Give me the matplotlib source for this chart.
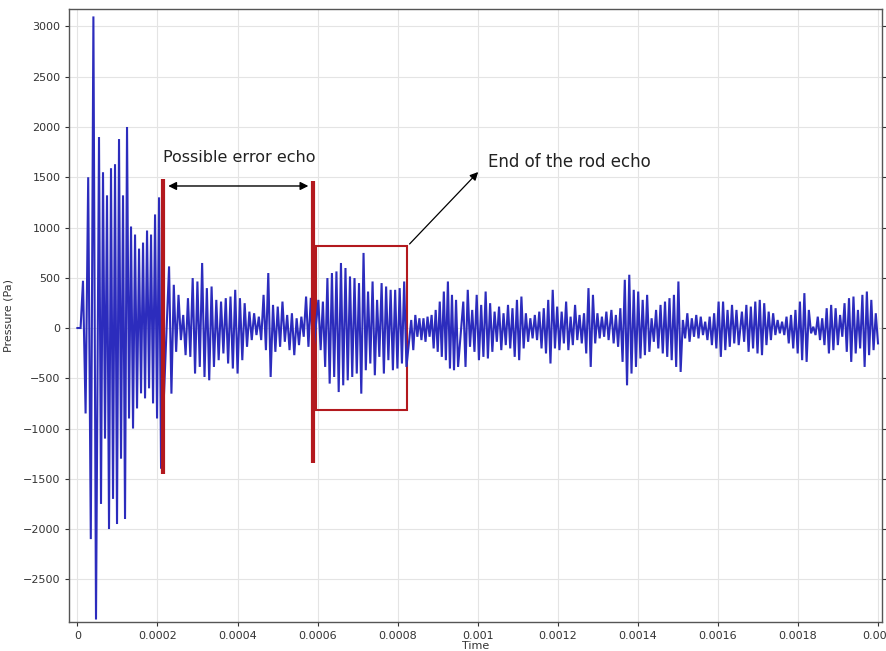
import numpy as np
import matplotlib
matplotlib.use("Agg")
import matplotlib.pyplot as plt

# ---- data: oscillation extrema (Pa), per segment ----
# segment time spans (s)
seg_A1_t = (0.0000140, 0.0000465)
seg_A1_hi = [470, 1500, 3100]
seg_A1_lo = [-850, -2100, -2900]

seg_A2_t = (0.0000540, 0.000209)
seg_A2_hi = [1900, 1550, 1320, 1590, 1630, 1880, 1320, 2000, 1010, 930, 790, 850, 970, 930, 1130, 1300]
seg_A2_lo = [-1750, -1100, -2000, -1700, -1950, -1300, -1900, -900, -1000, -800, -650, -700, -600, -750, -900, -1400]

seg_B_t = (0.000229, 0.000589)
seg_B_hi = [613, 430, 330, 130, 297, 497, 463, 647, 397, 413, 280, 263, 297, 313, 380, 297, 247, 163, 147, 113, 330, 547, 230, 213, 263, 130, 147, 97, 113, 313, 300]
seg_B_lo = [-653, -237, -120, -270, -287, -453, -387, -487, -520, -387, -320, -253, -353, -403, -453, -320, -187, -120, -70, -120, -220, -487, -237, -187, -137, -220, -270, -170, -87, -187, -250]

seg_C_t = (0.000602, 0.000822)
seg_C_hi = [280, 263, 497, 547, 563, 647, 597, 513, 497, 447, 747, 363, 463, 280, 447, 413, 380, 380, 397, 463]
seg_C_lo = [-220, -387, -553, -487, -637, -570, -520, -487, -453, -653, -420, -353, -470, -287, -453, -320, -420, -403, -353, -387]

seg_P_t = (0.000834, 0.000951)
seg_P_hi = [80, 130, 97, 97, 113, 130, 180, 263, 363, 463, 330, 280]
seg_P_lo = [-220, -87, -120, -137, -87, -203, -237, -287, -320, -403, -420, -387]

seg_D_t = (0.000964, 0.001327)
seg_D_hi = [263, 380, 180, 330, 230, 363, 247, 163, 213, 147, 230, 197, 280, 313, 147, 97, 130, 163, 197, 280, 380, 213, 163, 263, 113, 230, 130, 147, 397, 330, 147, 113, 163]
seg_D_lo = [-387, -187, -237, -320, -287, -303, -237, -137, -220, -170, -203, -287, -320, -203, -137, -103, -120, -203, -253, -353, -203, -220, -153, -220, -170, -120, -153, -253, -387, -153, -103, -87, -120]

seg_E_t = (0.001334, 0.001652)
seg_E_hi = [180, 130, 197, 480, 530, 380, 363, 280, 330, 97, 180, 230, 263, 297, 330, 463, 80, 147, 97, 130, 113, 63, 113, 147, 263, 263, 180, 230, 180]
seg_E_lo = [-153, -187, -337, -570, -453, -387, -303, -270, -237, -137, -203, -253, -287, -320, -387, -437, -103, -137, -87, -103, -70, -120, -170, -203, -287, -220, -187, -153, -170]

seg_F_t = (0.001660, 0.002000)
seg_F_hi = [163, 230, 213, 263, 280, 247, 163, 147, 80, 63, 113, 130, 180, 263, 347, 180, 13, 113, 97, 197, 230, 197, 130, 247, 297, 313, 180, 330, 363, 280, 147]
seg_F_lo = [-137, -237, -203, -253, -270, -170, -120, -70, -53, -70, -153, -203, -253, -320, -337, -53, -70, -120, -170, -253, -220, -170, -87, -237, -337, -253, -203, -387, -270, -220, -153]

segments = [
    (seg_A1_t, seg_A1_hi, seg_A1_lo),
    (seg_A2_t, seg_A2_hi, seg_A2_lo),
    (seg_B_t, seg_B_hi, seg_B_lo),
    (seg_C_t, seg_C_hi, seg_C_lo),
    (seg_P_t, seg_P_hi, seg_P_lo),
    (seg_D_t, seg_D_hi, seg_D_lo),
    (seg_E_t, seg_E_hi, seg_E_lo),
    (seg_F_t, seg_F_hi, seg_F_lo),
]

y_ticks = [-2500, -2000, -1500, -1000, -500, 0, 500, 1000, 1500, 2000, 2500, 3000]
x_ticks = [0, 0.0002, 0.0004, 0.0006, 0.0008, 0.001, 0.0012, 0.0014, 0.0016, 0.0018, 0.002]
x_ticklabels = ['0', '0.0002', '0.0004', '0.0006', '0.0008', '0.001', '0.0012', '0.0014', '0.0016', '0.0018', '0.002']

# ---- build polyline of extrema ----
ts = [0.0, 0.000008]
vs = [0.0, 0.0]
for (t0, t1), hi, lo in segments:
    n = len(hi)
    dt = (t1 - t0) / (n - 0.5)
    for k in range(n):
        ts.append(t0 + k * dt)
        vs.append(hi[k])
        ts.append(t0 + (k + 0.5) * dt)
        vs.append(lo[k])

fig = plt.figure(figsize=(8.86, 6.51), dpi=100)
ax = fig.add_axes([0.0784, 0.0445, 0.9171, 0.9417])

ax.plot(ts, vs, color='#2c2cbd', lw=1.5, solid_joinstyle='miter')

red = '#b3191e'
ax.plot([0.000214, 0.000214], [-1450, 1480], color=red, lw=3, solid_capstyle='butt')
ax.plot([0.000589, 0.000589], [-1340, 1460], color=red, lw=3, solid_capstyle='butt')
ax.add_patch(plt.Rectangle((0.000597, -816), 0.000227, 1632, fill=False, edgecolor=red, lw=1.5))

ax.annotate('', xy=(0.000584, 1413), xytext=(0.000220, 1413),
            arrowprops=dict(arrowstyle='<|-|>', color='black', lw=1.0, mutation_scale=12))
ax.text(0.000213, 1700, 'Possible error echo', fontsize=11.5, color='#222222', ha='left', va='center')
ax.annotate('', xy=(0.001006, 1572), xytext=(0.000825, 816),
            arrowprops=dict(arrowstyle='-|>', color='black', lw=0.9, mutation_scale=12))
ax.text(0.001025, 1650, 'End of the rod echo', fontsize=12, color='#222222', ha='left', va='center')

ax.set_xlim(-0.0000198, 0.00201)
ax.set_ylim(-2925, 3174)
ax.set_xticks(x_ticks)
ax.set_xticklabels(x_ticklabels)
ax.set_yticks(y_ticks)
ax.grid(True, color='#e4e4e4', lw=0.8)
ax.set_axisbelow(True)
for s in ax.spines.values():
    s.set_color('#555555')
    s.set_linewidth(1.0)
ax.tick_params(axis='both', labelsize=8, colors='#333333', length=3, width=0.8)
ax.tick_params(axis='y', right=True, direction='out')
ax.set_xlabel('Time', fontsize=8, labelpad=0, color='#333333')
ax.set_ylabel('Pressure (Pa)', fontsize=8, labelpad=7, color='#333333')

fig.savefig('out.png', dpi=100)
